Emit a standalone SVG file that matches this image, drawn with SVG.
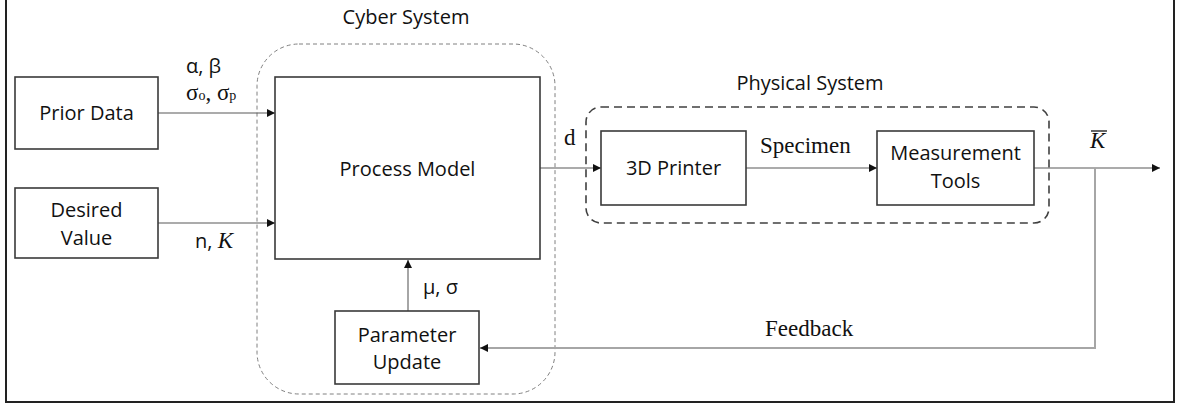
<svg xmlns="http://www.w3.org/2000/svg" width="1183" height="406" viewBox="0 0 1183 406">
  <style>
    .box { fill: #ffffff; stroke: #3a3a3a; stroke-width: 1.6; }
    .lbl { font-family: "Open Sans", "Noto Sans", sans-serif; font-size: 20px; fill: #111111; text-anchor: middle; }
    .sans { font-family: "Open Sans", "Noto Sans", sans-serif; font-size: 20px; fill: #111111; }
    .serif { font-family: "Liberation Serif", "DejaVu Serif", serif; font-size: 23px; fill: #111111; }
    .wire { fill: none; stroke: #595959; stroke-width: 1.2; }
    .wire-light { fill: none; stroke: #a6a6a6; stroke-width: 2; }
  </style>
  <defs>
    <marker id="arrow" viewBox="0 0 10 10" refX="10" refY="5" markerWidth="8" markerHeight="8" markerUnits="userSpaceOnUse" orient="auto">
      <path d="M0,0 L10,5 L0,10 z" fill="#111111"/>
    </marker>
  </defs>

  <!-- page frame -->
  <rect x="6" y="-2" width="1168" height="404" fill="#ffffff" stroke="#222222" stroke-width="2"/>

  <!-- system boundaries -->
  <g id="cyber-system">
    <rect x="257" y="44" width="298" height="350" rx="42" ry="42" fill="none" stroke="#808080" stroke-width="1" stroke-dasharray="4,3"/>
    <text class="lbl" x="406" y="24">Cyber System</text>
  </g>
  <g id="physical-system">
    <rect x="586" y="107" width="463" height="116" rx="15" ry="15" fill="none" stroke="#404040" stroke-width="1.6" stroke-dasharray="8,5"/>
    <text class="lbl" x="810" y="90">Physical System</text>
  </g>

  <!-- connectors -->
  <g id="connectors">
    <path class="wire" d="M158,113 H275" marker-end="url(#arrow)"/>
    <path class="wire" d="M158,223 H275" marker-end="url(#arrow)"/>
    <path class="wire" d="M540,168 H601" marker-end="url(#arrow)"/>
    <path class="wire" d="M746,168 H877" marker-end="url(#arrow)"/>
    <path class="wire" d="M1034,168 H1160" marker-end="url(#arrow)"/>
    <path class="wire-light" d="M408,311 V260" marker-end="url(#arrow)"/>
    <path class="wire-light" d="M1095,168 V348 H480" marker-end="url(#arrow)"/>

    <text class="sans" x="186" y="73">α, β</text>
    <text class="serif" x="186" y="100" font-size="21">σ<tspan font-size="14">o</tspan>, σ<tspan font-size="14">p</tspan></text>
    <text class="sans" x="195" y="248">n, <tspan font-family="Liberation Serif, serif" font-style="italic" font-size="23">K</tspan></text>
    <text class="sans" x="423" y="294">μ, σ</text>
    <text class="serif" x="564" y="145">d</text>
    <text class="serif" x="760" y="153">Specimen</text>
    <!-- measured output: K with an overbar -->
    <text class="serif" x="1090" y="148" font-style="italic" font-size="20">K</text>
    <line x1="1091" y1="131" x2="1107" y2="131" stroke="#111111" stroke-width="1.3"/>
    <text class="serif" x="765" y="336">Feedback</text>
  </g>

  <!-- nodes -->
  <g id="prior-data">
    <rect class="box" x="15" y="77" width="143" height="72"/>
    <text class="lbl" x="86.5" y="120">Prior Data</text>
  </g>
  <g id="desired-value">
    <rect class="box" x="15" y="188" width="143" height="70"/>
    <text class="lbl" x="86.5" y="217">Desired</text>
    <text class="lbl" x="86.5" y="245">Value</text>
  </g>
  <g id="process-model">
    <rect class="box" x="275" y="77" width="265" height="182"/>
    <text class="lbl" x="407.5" y="176">Process Model</text>
  </g>
  <g id="parameter-update">
    <rect class="box" x="335" y="311" width="144" height="73"/>
    <text class="lbl" x="407" y="342">Parameter</text>
    <text class="lbl" x="407" y="369">Update</text>
  </g>
  <g id="printer">
    <rect class="box" x="601" y="131" width="145" height="74"/>
    <text class="lbl" x="673.5" y="175">3D Printer</text>
  </g>
  <g id="measurement-tools">
    <rect class="box" x="877" y="131" width="157" height="74"/>
    <text class="lbl" x="955.5" y="160">Measurement</text>
    <text class="lbl" x="955.5" y="188">Tools</text>
  </g>
</svg>
